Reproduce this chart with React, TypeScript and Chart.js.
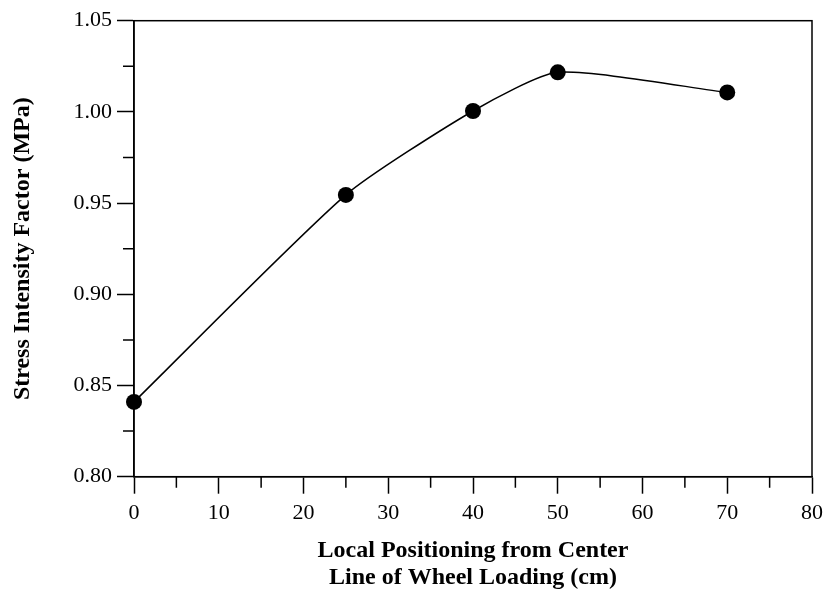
import React, { useEffect, useRef } from "react";
import { Chart, registerables } from "chart.js";

Chart.register(...registerables);

const positions: number[] = [0, 25, 40, 50, 70];
const stressFactor: number[] = [0.841, 0.9545, 1.0005, 1.0217, 1.0107];
const xTitle: string[] = ["Local Positioning from Center", "Line of Wheel Loading (cm)"];
const yTitle = "Stress Intensity Factor (MPa)";

const isMajorY = (v: number) => Math.abs(Math.round(v / 0.05) * 0.05 - v) < 1e-6;
const isMajorX = (v: number) => Math.abs(Math.round(v / 10) * 10 - v) < 1e-6;

const framePlugin = {
  id: "frameAndMinorTicks",
  afterDraw(chart: any) {
    const { ctx, chartArea } = chart;
    const xs = chart.scales.x;
    const ys = chart.scales.y;
    ctx.save();
    ctx.strokeStyle = "#000";
    ctx.lineWidth = 1.5;
    ctx.strokeRect(chartArea.left, chartArea.top, chartArea.right - chartArea.left, chartArea.bottom - chartArea.top);
    ctx.beginPath();
    xs.ticks.forEach((t: any) => {
      if (!isMajorX(t.value)) {
        const px = xs.getPixelForValue(t.value);
        ctx.moveTo(px, chartArea.bottom);
        ctx.lineTo(px, chartArea.bottom + 11);
      }
    });
    ys.ticks.forEach((t: any) => {
      if (!isMajorY(t.value)) {
        const py = ys.getPixelForValue(t.value);
        ctx.moveTo(chartArea.left, py);
        ctx.lineTo(chartArea.left - 11, py);
      }
    });
    ctx.stroke();
    ctx.restore();
  },
};

export default function App() {
  const ref = useRef<HTMLCanvasElement | null>(null);
  useEffect(() => {
    if (!ref.current) return;
    const serif = "'Liberation Serif', 'Times New Roman', serif";
    const chart = new Chart(ref.current, {
      type: "line",
      data: {
        datasets: [
          {
            data: positions.map((x, i) => ({ x, y: stressFactor[i] })),
            borderColor: "#000",
            backgroundColor: "#000",
            borderWidth: 1.5,
            pointRadius: 8,
            pointHoverRadius: 8,
            pointBackgroundColor: "#000",
            pointBorderWidth: 0,
            tension: 0.2,
            clip: false,
            fill: false,
          },
        ],
      },
      options: {
        responsive: false,
        animation: false,
        events: [],
        layout: { padding: { top: 20.7, right: 13, bottom: 0, left: 0 } },
        plugins: { legend: { display: false }, tooltip: { enabled: false } },
        scales: {
          x: {
            type: "linear",
            min: 0,
            max: 80,
            afterFit: (s: any) => {
              s.height = 116.3;
              s.paddingRight = 0;
              s.paddingLeft = 0;
            },
            ticks: {
              stepSize: 5,
              autoSkip: false,
              maxRotation: 0,
              padding: 6,
              color: "#000",
              font: { family: serif, size: 22 },
              callback: (v: any) => (isMajorX(Number(v)) ? String(Math.round(Number(v))) : ""),
            },
            grid: {
              drawOnChartArea: false,
              drawTicks: true,
              tickLength: 17,
              tickWidth: 1.5,
              tickColor: (c: any) => (c.tick && isMajorX(c.tick.value) ? "#000" : "rgba(0,0,0,0)"),
            },
            border: { color: "#000", width: 1.5 },
            title: {
              display: true,
              text: xTitle,
              color: "#000",
              font: { family: serif, size: 24, weight: "bold", lineHeight: 1.11 },
              padding: { top: 0, bottom: 2 },
            },
          },
          y: {
            type: "linear",
            min: 0.8,
            max: 1.05,
            afterFit: (s: any) => {
              s.width = 134;
              s.paddingTop = 0;
              s.paddingBottom = 0;
            },
            ticks: {
              stepSize: 0.025,
              autoSkip: false,
              padding: 5,
              color: "#000",
              font: { family: serif, size: 22 },
              callback: (v: any) => (isMajorY(Number(v)) ? Number(v).toFixed(2) : ""),
            },
            grid: {
              drawOnChartArea: false,
              drawTicks: true,
              tickLength: 17,
              tickWidth: 1.5,
              tickColor: (c: any) => (c.tick && isMajorY(c.tick.value) ? "#000" : "rgba(0,0,0,0)"),
            },
            border: { color: "#000", width: 1.5 },
            title: {
              display: true,
              text: yTitle,
              color: "#000",
              font: { family: serif, size: 24, weight: "bold", lineHeight: 1.2 },
              padding: { top: 8, bottom: 0 },
            },
          },
        },
      },
      plugins: [framePlugin],
    } as any);
    return () => chart.destroy();
  }, []);
  return (
    <div style={{ position: "fixed", left: 0, top: 0, width: 825, height: 593, background: "#fff" }}>
      <canvas ref={ref} width={825} height={593} style={{ display: "block" }} />
    </div>
  );
}
